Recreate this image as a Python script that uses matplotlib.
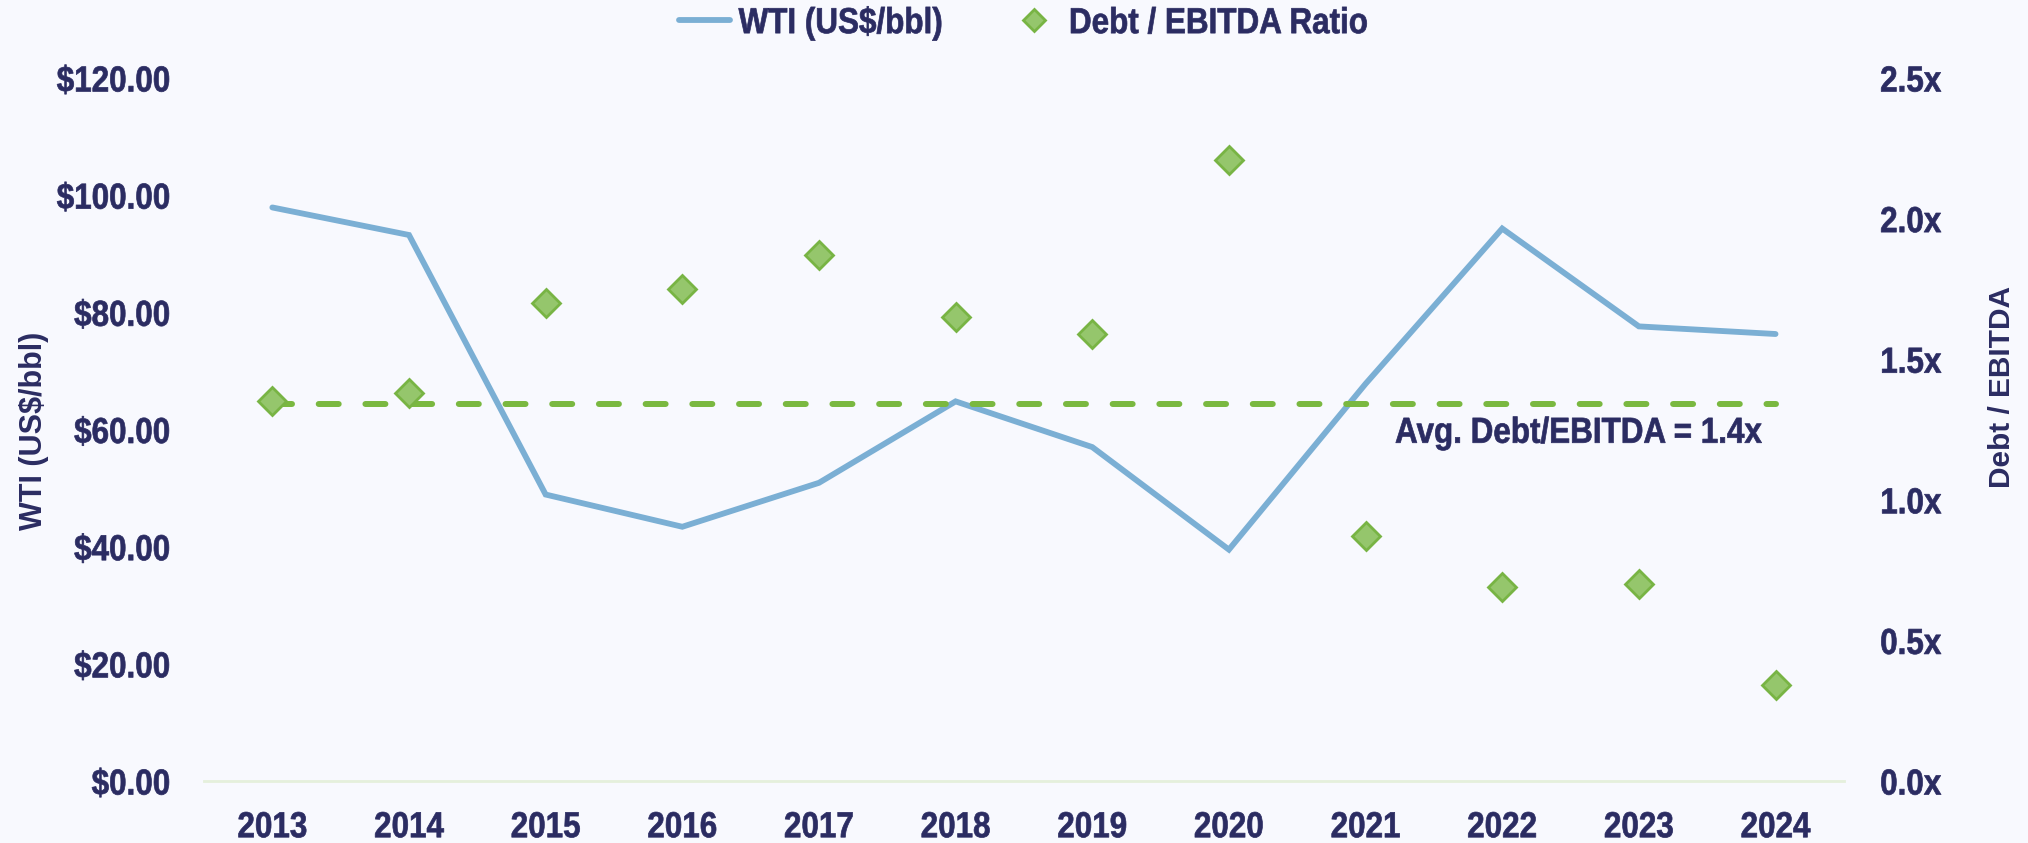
import matplotlib
matplotlib.use('Agg')
import matplotlib.pyplot as plt
from matplotlib.ticker import FuncFormatter
from matplotlib.patheffects import AbstractPathEffect
from matplotlib.transforms import Affine2D
import numpy as np

# data
years = ['2013', '2014', '2015', '2016', '2017', '2018',
         '2019', '2020', '2021', '2022', '2023', '2024']
wti = [97.9, 93.2, 48.9, 43.4, 50.9, 64.8, 57.0, 39.5, 67.8, 94.3, 77.6, 76.3]
debt_ebitda = [1.35, 1.38, 1.70, 1.75, 1.87, 1.65, 1.59, 2.21, 0.87, 0.69, 0.70, 0.34]
avg_ratio = np.mean(debt_ebitda)
avg_label = 'Avg. Debt/EBITDA = 1.4x'

navy = '#2B2C62'
bg = '#F8F9FE'
plt.rcParams['font.family'] = ['Liberation Sans', 'DejaVu Sans']
plt.rcParams['font.weight'] = 'bold'


class Narrow(AbstractPathEffect):
    """squeeze glyphs horizontally to fake a condensed face (no narrow font here)"""
    def __init__(self, sx=0.87, anchor='center', stroke=0.5):
        super().__init__()
        self.sx = sx
        self.anchor = anchor
        self.stroke = stroke

    def draw_path(self, renderer, gc, tpath, affine, rgbFace=None):
        ext = tpath.get_extents(affine)
        x0 = {'left': ext.x0, 'right': ext.x1, 'center': 0.5 * (ext.x0 + ext.x1)}[self.anchor]
        squeeze = Affine2D().translate(-x0, 0).scale(self.sx, 1).translate(x0, 0)
        gc0 = renderer.new_gc()
        gc0.copy_properties(gc)
        gc0.set_linewidth(self.stroke)
        gc0.set_foreground(rgbFace)
        renderer.draw_path(gc0, tpath, affine + squeeze, rgbFace)
        gc0.restore()


fig = plt.figure(figsize=(20.28, 8.43), dpi=100, facecolor=bg)
ax1 = fig.add_axes([0.1006, 0.0735, 0.8086, 0.834])
ax1.set_facecolor(bg)
ax2 = ax1.twinx()
ax2.patch.set_visible(False)

x = np.arange(len(years))

# WTI line on the left axis
l1, = ax1.plot(x, wti, color='#7BAFD4', lw=4.2, solid_capstyle='round',
               solid_joinstyle='miter', label='WTI (US$/bbl)')

# average line and ratio markers on the right axis
ax2.plot(x, [avg_ratio] * len(x), color='#7AB840', lw=4.3,
         dashes=(3.35, 4.47), dash_capstyle='round')
l2, = ax2.plot(x, debt_ebitda, ls='none', marker='D', ms=14.5,
               mfc='#95C66C', mec='#78B444', mew=2, label='Debt / EBITDA Ratio')
ann = ax2.text(x[-1] - 0.1, avg_ratio - 0.105, avg_label,
               ha='right', va='center', fontsize=26, color=navy, fontweight='bold')
ann.set_path_effects([Narrow(anchor='right')])

ax1.set_xlim(-0.5, len(years) - 0.5)
ax1.set_ylim(0, 120)
ax1.set_yticks(np.arange(0, 121, 20))
ax2.set_ylim(0, 2.5)
ax2.set_yticks(np.arange(0, 2.51, 0.5))
ax1.set_xticks(x)
ax1.set_xticklabels(years)
ax1.yaxis.set_major_formatter(FuncFormatter(lambda v, p: '$%.2f' % v))
ax2.yaxis.set_major_formatter(FuncFormatter(lambda v, p: '%.1fx' % v))

for ax in (ax1, ax2):
    for s in ax.spines.values():
        s.set_visible(False)
ax1.spines['bottom'].set_visible(True)
ax1.spines['bottom'].set_color('#E5F0DC')
ax1.spines['bottom'].set_linewidth(2)

ax1.tick_params(axis='x', length=0, pad=21, labelsize=26, labelcolor=navy)
ax1.tick_params(axis='y', length=0, pad=24, labelsize=26, labelcolor=navy)
ax2.tick_params(axis='y', length=0, pad=26, labelsize=26, labelcolor=navy)

for lab in ax1.get_xticklabels():
    lab.set_path_effects([Narrow(anchor='center')])
for lab in ax1.get_yticklabels():
    lab.set_path_effects([Narrow(anchor='right')])
for lab in ax2.get_yticklabels():
    lab.set_path_effects([Narrow(anchor='left')])

ax1.set_ylabel('WTI (US$/bbl)', fontsize=22, color=navy, fontweight='bold')
ax1.yaxis.set_label_coords(-0.0946, 0.498)
ax2.set_ylabel('Debt / EBITDA', fontsize=21.5, color=navy, fontweight='bold',
               rotation=90)
ax2.yaxis.set_label_coords(1.088, 0.561)

leg = fig.legend(handles=[l1, l2], loc='center left', bbox_to_anchor=(0.3348, 0.972),
                 ncol=2, frameon=False, fontsize=26, labelcolor=navy, handlelength=1.4,
                 handletextpad=0.25, columnspacing=1.0, markerscale=0.8,
                 borderpad=0, borderaxespad=0)
for t in leg.get_texts():
    t.set_path_effects([Narrow(anchor='left')])

fig.savefig('out.png', dpi=100, facecolor=bg)
